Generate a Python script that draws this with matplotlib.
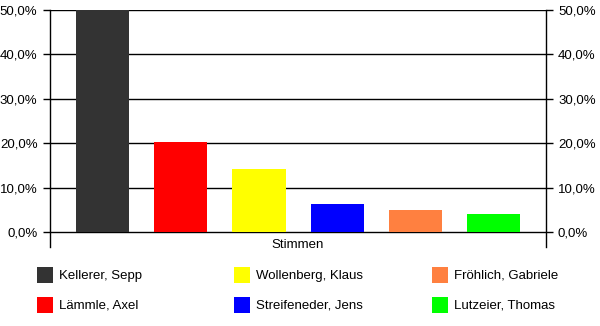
import matplotlib
matplotlib.use("Agg")
import matplotlib.pyplot as plt
from matplotlib.patches import Rectangle

candidates = ["Kellerer, Sepp", "Lämmle, Axel", "Wollenberg, Klaus",
              "Streifeneder, Jens", "Fröhlich, Gabriele", "Lutzeier, Thomas"]
values = [50.2, 20.3, 14.2, 6.3, 5.0, 4.0]
colors = ["#333333", "#FF0000", "#FFFF00", "#0000FF", "#FF8040", "#00FF00"]
yticks = [0, 10, 20, 30, 40, 50]
xlabel = "Stimmen"

plt.rcParams['font.family'] = ['Liberation Sans', 'DejaVu Sans']
W, H = 600, 326
fig = plt.figure(figsize=(W / 100, H / 100), dpi=100)
left, right, top, bottom = 50, 545.5, 10, 247
ax = fig.add_axes([left / W, 1 - bottom / H, (right - left) / W, (bottom - top) / H])

x = list(range(len(values)))
ax.bar(x, values, width=0.68, color=colors, zorder=3)
ax.set_xlim(-0.67, 5.66)
ax.set_ylim(-3.4, 50)
for t in yticks:
    ax.axhline(t, color="black", lw=1, zorder=2)

ax.set_yticks(yticks)
ax.set_yticklabels([f"{t:.1f}%".replace(".", ",") for t in yticks], fontsize=9.5)
ax.tick_params(axis="y", direction="out", length=5, width=1, left=True, right=True,
               labelleft=True, labelright=True, pad=4, color="black")
ax.set_xticks([])
for s in ["top", "bottom"]:
    ax.spines[s].set_visible(False)
for s in ["left", "right"]:
    ax.spines[s].set_linewidth(1)
    ax.spines[s].set_color("black")

fig.text((left + right) / 2 / W, 1 - 245 / H, xlabel, ha="center", va="center", fontsize=9.5)

# legend (column-major, 3 columns x 2 rows)
col_x = [37, 234, 432]
row_y = [267, 297]
for i, (name, c) in enumerate(zip(candidates, colors)):
    cx = col_x[i // 2]
    ry = row_y[i % 2]
    fig.add_artist(Rectangle((cx / W, 1 - (ry + 16) / H), 16 / W, 16 / H,
                             transform=fig.transFigure, facecolor=c, edgecolor="none"))
    fig.text((cx + 22) / W, 1 - (ry + 8.5) / H, name, ha="left", va="center", fontsize=9.5)

fig.savefig("out.png", dpi=100, facecolor="white")
